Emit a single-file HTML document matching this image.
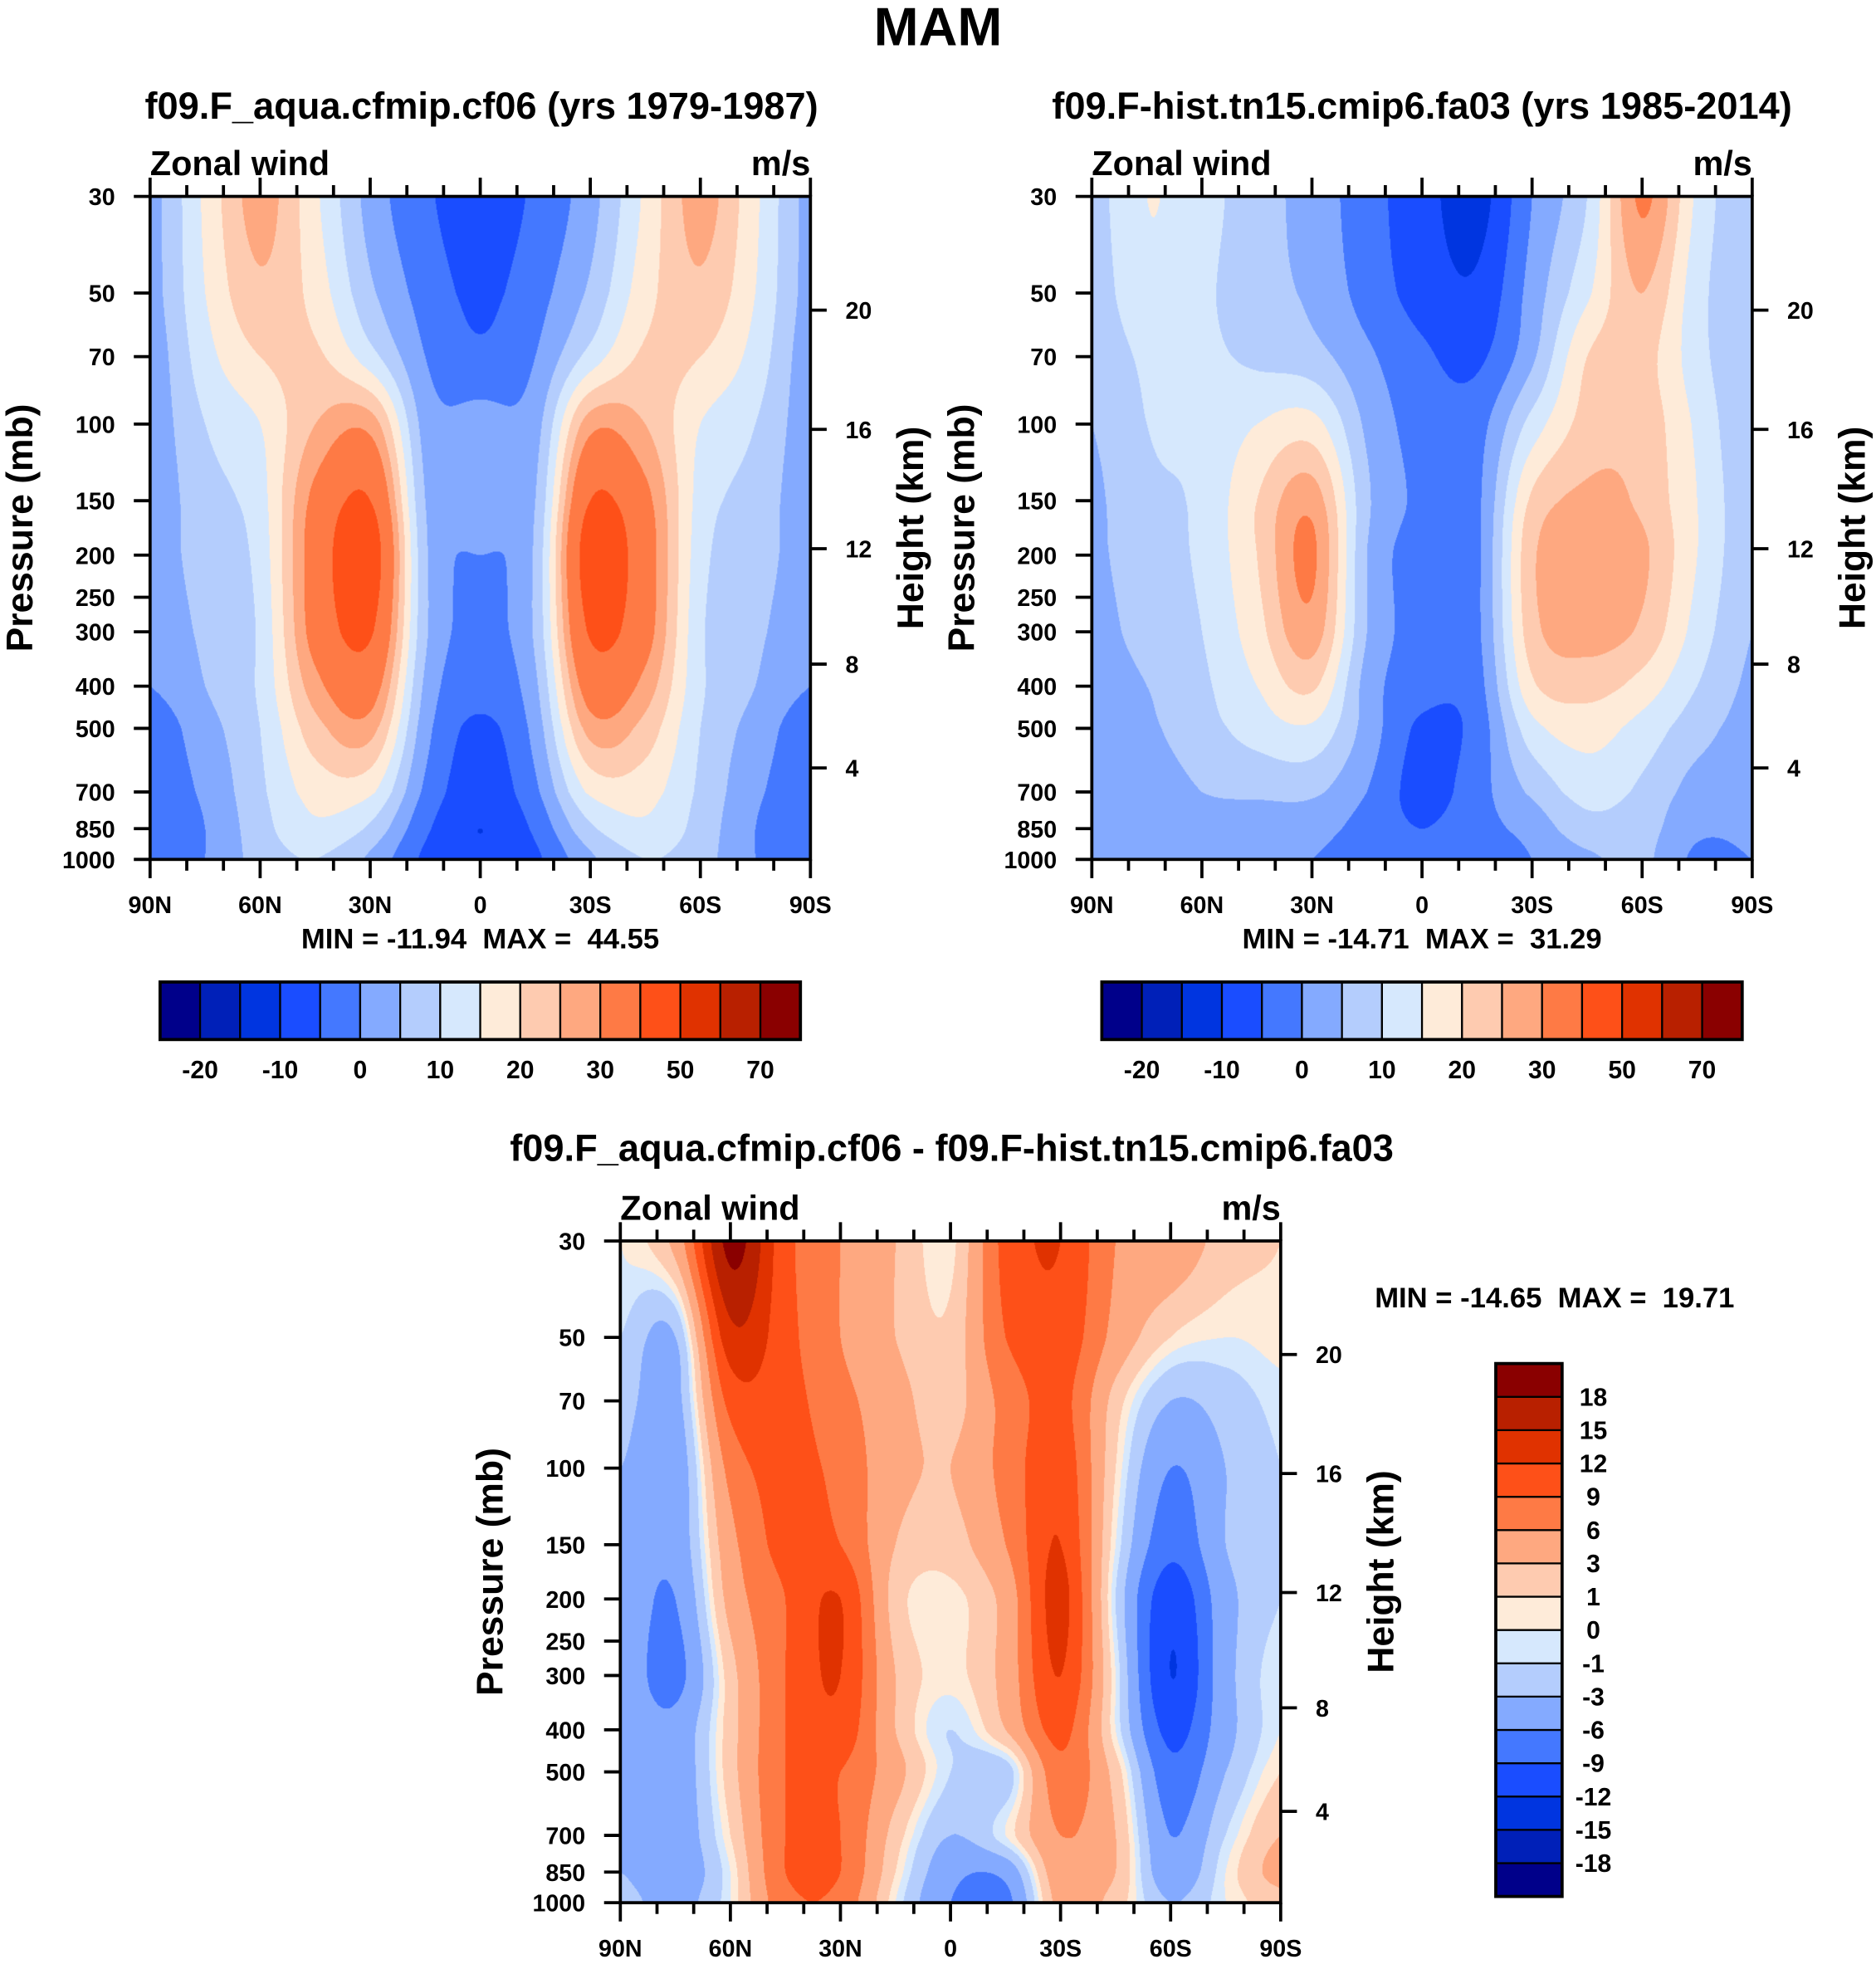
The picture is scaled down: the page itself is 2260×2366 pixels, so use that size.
<!DOCTYPE html>
<html><head><meta charset="utf-8">
<style>
html,body{margin:0;padding:0;background:#fff;}
#stage{position:absolute;left:0;top:0;width:1500px;height:1570px;transform-origin:0 0;transform:scale(1.506667,1.507006);overflow:hidden;}
#stage canvas{position:absolute;}
#stage svg{position:absolute;left:0;top:0;}
text{font-family:"Liberation Sans",Arial,sans-serif;font-weight:bold;fill:#000;}
</style></head>
<body>
<div id="stage">
<svg id="svg" width="1500" height="1570" viewBox="0 0 1500 1570"></svg>
</div>
<script>
// ---------- data ----------
const lats = [90,75,60,45,30,15,0,-15,-30,-45,-60,-75,-90];
const pLevels = [30,50,70,100,150,200,300,400,500,700,850,1000];
const pTickLabels = [30,50,70,100,150,200,250,300,400,500,700,850,1000];
const heightTicks = [20,16,12,8,4];
const latTicks = [90,60,30,0,-30,-60,-90];
const latTickLabels = ["90N","60N","30N","0","30S","60S","90S"];
const colors = ["#00008a","#0020b8","#0035e0","#1a4dff","#4478ff","#84aaff","#b4cdfd","#d6e8fd","#feebd9","#fecbb0","#fea880","#fe7a45","#fe5018","#e03200","#b82000","#8a0000"];
const bounds1 = [-20,-15,-10,-5,0,5,10,15,20,25,30,40,50,60,70];
const bounds1Labels = ["-20","","-10","","0","","10","","20","","30","","50","","70"];
const bounds3 = [-18,-15,-12,-9,-6,-3,-1,0,1,3,6,9,12,15,18];
const bounds3Labels = ["-18","-15","-12","-9","-6","-3","-1","0","1","3","6","9","12","15","18"];
const aquaWind = [
 [3,16,27,16,3,-4,-8,-4,3,16,27,16,3],
 [3,15,24,18,6,-2,-6,-2,6,18,24,15,3],
 [2,13,20,21,12,0,-4,0,12,21,20,13,2],
 [2,10,15,25,28,3,2,3,28,25,15,10,2],
 [2,8,13,32,40,5,3,5,40,32,13,8,2],
 [3,7,12,34,45,6,0,6,45,34,12,7,3],
 [2,6,11,33,41,6,-1,6,41,33,11,6,2],
 [0,5,11,28,34,4,-3,4,34,28,11,5,0],
 [-3,3,10,23,27,2,-6,2,27,23,10,3,-3],
 [-3,1,9,17,16,-1,-8,-1,16,17,9,1,-3],
 [-3,0,8,14,9,-4,-10,-4,9,14,8,0,-3],
 [-3,0,7,10,4,-6,-9,-6,4,10,7,0,-3]
];
const histWind = [
 [8,15,12,7,3,-3,-8,-12,0,10,31,14,5],
 [7,14,11,7,4,-2,-7,-9,2,14,25,12,5],
 [6,11,11,9,7,1,-4,-6,4,20,22,12,5],
 [5,10,11,15,17,4,-2,-2,12,22,23,14,5],
 [4,9,11,20,28,6,-1,-1,21,26,24,15,6],
 [4,8,11,20,31,5,-2,-1,24,27,26,15,6],
 [3,7,10,18,28,5,-2,-1,23,27,24,13,5],
 [2,5,9,15,21,3,-3,-2,19,22,18,10,4],
 [1,4,8,12,14,3,-6,-3,13,17,13,7,3],
 [1,2,5,6,6,0,-7,-2,6,12,9,3,2],
 [0,1,3,2,2,-2,-5,-2,2,8,7,1,1],
 [1,1,1,0,0,-3,-4,-4,0,4,6,-1,0]
];
const diffWind = [
 [0,4,19,10,6,3,0.5,10,12,6,5,2,1],
 [-1,-3,14,10,6,3,1.5,9,11,5,1,0,0.5],
 [-2,-4,10,10,7,4,2,7,10,2,-3,-2,-0.5],
 [-3,-5,7,10,8,4,3,7,11,1,-6,-3,-1],
 [-4,-5,5,10,9,3,2,6,12,0,-8,-3,-1],
 [-4,-6,4,9,12,2,0.5,4,13,-1,-11,-4,-1],
 [-4,-7,2,9,12,3,0.5,4,12,0,-12,-4,0],
 [-4,-5,2,9,11,3,-1,3,10,0,-10,-4,0],
 [-4,-5,2,9,9,4,-1,-2,8,2,-8,-3,1],
 [-4,-5,1,9,9,2,-3,0,6,3,-6,-1,3],
 [-3,-5,0,9,9,1,-5,-5,5,3,-5,0,4],
 [-2,-4,0,8,8,0,-6,-7,4,2,-3,0,2]
];

// ---------- helpers ----------
const SX = 2260/1500, SY = 2366/1570;
const svg = document.getElementById('svg');
const NS = 'http://www.w3.org/2000/svg';
function mk(tag, attrs, parent){const e=document.createElementNS(NS,tag);for(const k in attrs)e.setAttribute(k,attrs[k]);(parent||svg).appendChild(e);return e;}
function txt(x,y,s,size,anchor,name,rot){
  const t=mk('text',{x:x,y:y,'font-size':size,'text-anchor':anchor||'middle'});
  t.setAttribute('xml:space','preserve');
  t.style.whiteSpace='pre';
  if(rot) t.setAttribute('transform','rotate(-90 '+x+' '+y+')');
  t.textContent=s;
  
  
  return t;
}
const LP0=Math.log(30), LP1=Math.log(1000);
function yOfP(p,y0,h){return y0+(Math.log(p)-LP0)/(LP1-LP0)*h;}
function xOfLat(l,x0,w){return x0+(90-l)/180*w;}
function pOfZ(km){const z=km*1000; if(z<=11000) return 1013.25*Math.pow(1-2.25577e-5*z,5.25588); return 226.32*Math.exp(-(z-11000)/6341.6);}
function cr(p0,p1,p2,p3,t){return 0.5*((2*p1)+(-p0+p2)*t+(2*p0-5*p1+4*p2-p3)*t*t+(-p0+3*p1-3*p2+p3)*t*t*t);}
function sample(vals,r,c){
  const nr=vals.length,nc=vals[0].length;
  const ri=Math.min(Math.floor(r),nr-2), ci=Math.min(Math.floor(c),nc-2);
  const tr=r-ri, tc=c-ci;
  const rows=[];
  for(let k=-1;k<=2;k++){
    const rr=vals[Math.max(0,Math.min(nr-1,ri+k))];
    rows.push(cr(rr[Math.max(0,ci-1)],rr[ci],rr[ci+1],rr[Math.min(nc-1,ci+2)],tc));
  }
  return cr(rows[0],rows[1],rows[2],rows[3],tr);
}
function hex(c){return [parseInt(c.substr(1,2),16),parseInt(c.substr(3,2),16),parseInt(c.substr(5,2),16)];}
const rgb=colors.map(hex);
const lnLev=pLevels.map(Math.log);

function drawField(x0,y0,w,h,vals,bounds,name){
  const cv=document.createElement('canvas');
  
  
  const W=Math.round(w*SX), H=Math.round(h*SY);
  cv.width=W; cv.height=H;
  cv.style.left=x0+'px'; cv.style.top=y0+'px'; cv.style.width=w+'px'; cv.style.height=h+'px';
  document.getElementById('stage').insertBefore(cv, svg);
  const ctx=cv.getContext('2d'); const im=ctx.createImageData(W,H); const d=im.data;
  for(let py=0;py<H;py++){
    const lp=LP0+(py+0.5)/H*(LP1-LP0);
    let i=0; while(i<lnLev.length-2 && lp>lnLev[i+1]) i++;
    const r=i+Math.max(0,Math.min(1,(lp-lnLev[i])/(lnLev[i+1]-lnLev[i])));
    for(let px=0;px<W;px++){
      const c=(px+0.5)/W*(lats.length-1);
      const v=sample(vals,r,c);
      let k=0; while(k<bounds.length && v>=bounds[k]) k++;
      const col=rgb[k]; const o=(py*W+px)*4;
      d[o]=col[0];d[o+1]=col[1];d[o+2]=col[2];d[o+3]=255;
    }
  }
  ctx.putImageData(im,0,0);
}

function panel(x0,y0,w,h,vals,bounds,prefix){
  drawField(x0,y0,w,h,vals,bounds,prefix+'-contour-field');
  const g=mk('g',{stroke:'#000','stroke-width':2.5,fill:'none'});
  
  
  mk('rect',{x:x0,y:y0,width:w,height:h},g);
  for(let l=90;l>=-90;l-=10){
    const x=xOfLat(l,x0,w); const major=(l%30===0); const L=major?15:9;
    mk('line',{x1:x,y1:y0,x2:x,y2:y0-L},g);
    mk('line',{x1:x,y1:y0+h,x2:x,y2:y0+h+L},g);
  }
  latTicks.forEach((l,i)=>txt(xOfLat(l,x0,w),y0+h+43,latTickLabels[i],19,'middle',prefix+'-x-tick-label'));
  pTickLabels.forEach(p=>{
    const y=yOfP(p,y0,h);
    mk('line',{x1:x0,y1:y,x2:x0-13,y2:y},g);
    txt(x0-28,y+7,String(p),19,'end',prefix+'-y-tick-label');
  });
  heightTicks.forEach(z=>{
    const y=yOfP(pOfZ(z),y0,h);
    mk('line',{x1:x0+w,y1:y,x2:x0+w+13,y2:y},g);
    txt(x0+w+28,y+7,String(z),19,'start',prefix+'-height-tick-label');
  });
  txt(x0,y0-17,'Zonal wind',27.5,'start',prefix+'-subtitle-left');
  txt(x0+w,y0-17,'m/s',27.5,'end',prefix+'-units-label');
  txt(x0-94,y0+h/2,'Pressure (mb)',29.5,'middle',prefix+'-y-axis-title',true);
  txt(x0+w+90,y0+h/2,'Height (km)',29.5,'middle',prefix+'-y2-axis-title',true);
}

function hbar(x0,y0,w,h,bounds,labels,prefix){
  const n=colors.length, bw=w/n;
  colors.forEach((c,i)=>{
    const r=mk('rect',{x:x0+i*bw,y:y0,width:bw,height:h,fill:c,stroke:'#000','stroke-width':1.5});
    
    
  });
  const f=mk('rect',{x:x0,y:y0,width:w,height:h,fill:'none',stroke:'#000','stroke-width':2.5});
  
  
  bounds.forEach((b,i)=>{ if(labels[i]) txt(x0+(i+1)*bw,y0+h+31,labels[i],20,'middle',prefix+'-colorbar-label'); });
}
function vbar(x0,y0,w,h,bounds,labels,prefix){
  const n=colors.length, bh=h/n;
  colors.forEach((c,i)=>{
    const r=mk('rect',{x:x0,y:y0+(n-1-i)*bh,width:w,height:bh,fill:c,stroke:'#000','stroke-width':1.5});
    
    
  });
  const f=mk('rect',{x:x0,y:y0,width:w,height:h,fill:'none',stroke:'#000','stroke-width':2.5});
  
  
  bounds.forEach((b,i)=>{ txt(x0+w+25,y0+(n-1-i)*bh+7,labels[i],20,'middle',prefix+'-colorbar-label'); });
}

// ---------- figure ----------
txt(750,36,'MAM',43,'middle','figure-title');
txt(385,95,'f09.F_aqua.cfmip.cf06 (yrs 1979-1987)',30,'middle','panel1-title');
txt(1137,95,'f09.F-hist.tn15.cmip6.fa03 (yrs 1985-2014)',30,'middle','panel2-title');
txt(761,928,'f09.F_aqua.cfmip.cf06 - f09.F-hist.tn15.cmip6.fa03',30,'middle','diff-title');

panel(120,157,528,530,aquaWind,bounds1,'panel1');
panel(873,157,528,530,histWind,bounds1,'panel2');
panel(496,992,528,529,diffWind,bounds3,'diff');

txt(384,758,'MIN = -11.94  MAX =  44.55',23,'middle','panel1-min-max');
txt(1137,758,'MIN = -14.71  MAX =  31.29',23,'middle','panel2-min-max');
txt(1243,1045,'MIN = -14.65  MAX =  19.71',23,'middle','diff-min-max');

hbar(128,785,512,46,bounds1,bounds1Labels,'panel1');
hbar(881,785,512,46,bounds1,bounds1Labels,'panel2');
vbar(1196,1090,53,426,bounds3,bounds3Labels,'diff');
</script>
</body></html>
